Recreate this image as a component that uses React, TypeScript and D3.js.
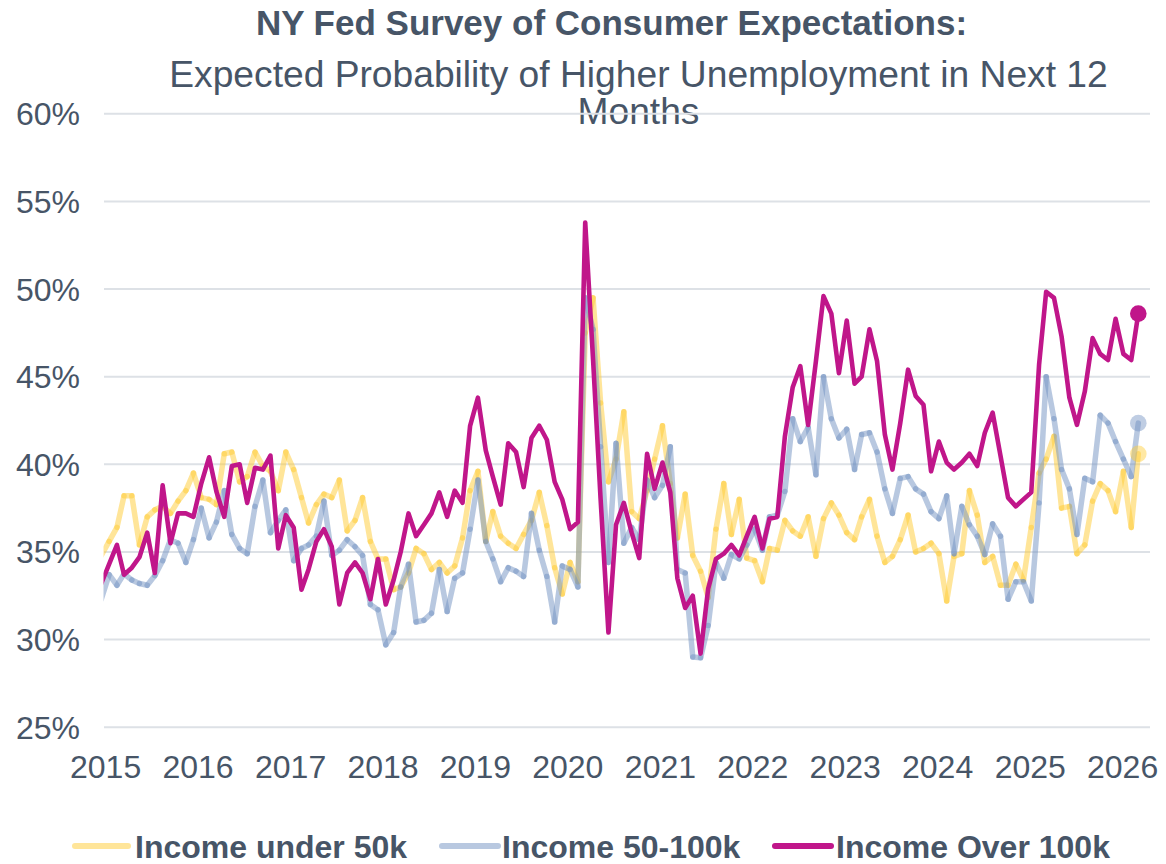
import React from "react";
import * as d3 from "d3";

// Monthly readings, Dec 2014 .. Mar 2026 (136 months)
const under50k: number[] = [
  34.8, 35.6, 36.4, 38.2, 38.2, 35.4, 37.0, 37.4, 37.6, 37.2, 37.9, 38.5, 39.5, 38.1, 38.0, 37.7,
  40.6, 40.7, 39.0, 39.3, 40.7, 39.9, 39.6, 38.5, 40.7, 39.7, 38.1, 36.65, 37.7, 38.3, 38.1, 39.1,
  36.2, 36.8, 38.1, 35.6, 34.6, 34.6, 32.85, 33.0, 33.8, 35.2, 34.9, 34.0, 34.4, 33.8, 34.2, 35.8,
  38.5, 39.6, 35.6, 37.3, 35.9, 35.5, 35.2, 36.0, 36.8, 38.4, 36.5, 34.1, 32.6, 34.4, 33.3, 47.5,
  49.5, 43.5, 39.0, 40.3, 43.0, 37.3, 36.9, 38.5, 40.3, 42.2, 38.9, 35.8, 38.3, 34.8, 33.9, 32.4,
  36.3, 38.9, 36.0, 38.0, 34.65, 34.5, 33.3, 35.2, 35.1, 36.8, 36.2, 35.9, 37.0, 34.75, 36.9, 37.8,
  37.1, 36.1, 35.7, 37.0, 38.0, 35.9, 34.4, 34.75, 35.7, 37.1, 35.0, 35.2, 35.5, 34.9, 32.2, 34.75,
  34.9, 38.5, 37.1, 34.4, 34.75, 33.1, 33.1, 34.3, 33.4, 36.4, 39.5, 40.3, 41.6, 37.5, 37.6, 34.9,
  35.4, 37.9, 38.9, 38.5, 37.3, 39.6, 36.4, 40.6,
];

const income50to100k: number[] = [
  32.3, 33.7, 33.1, 33.75, 33.4, 33.2, 33.1, 33.65, 34.5, 35.7, 35.5, 34.4, 35.7, 37.5, 35.8, 36.7,
  38.5, 36.0, 35.2, 34.9, 37.6, 39.1, 36.1, 36.8, 37.4, 34.5, 35.2, 35.4, 35.9, 37.9, 34.8, 35.1,
  35.7, 35.3, 34.8, 32.0, 31.7, 29.7, 30.4, 33.0, 34.3, 31.0, 31.1, 31.5, 34.0, 31.6, 33.5, 33.8,
  36.3, 39.1, 35.6, 34.6, 33.3, 34.1, 33.9, 33.6, 37.2, 35.1, 33.6, 31.0, 34.2, 34.0, 33.0, 49.5,
  47.7, 41.0, 34.4, 41.2, 35.5, 36.4, 35.7, 39.1, 38.1, 38.8, 41.0, 34.0, 33.8, 29.0, 28.96, 30.8,
  34.4, 33.5, 34.85, 34.6, 35.4, 36.3, 35.1, 37.0, 37.1, 38.45, 42.6, 41.3, 42.1, 39.4, 45.0, 42.6,
  41.5, 42.0, 39.7, 41.7, 41.8, 40.7, 38.6, 37.2, 39.2, 39.3, 38.6, 38.3, 37.3, 36.9, 38.2, 34.9,
  37.6, 36.55, 35.9, 34.85, 36.6, 35.9, 32.3, 33.3, 33.3, 32.2, 37.8, 45.0, 42.6, 39.7, 38.6, 36.0,
  39.2, 39.0, 42.8, 42.35, 41.3, 40.3, 39.3, 42.35,
];

const over100k: number[] = [
  33.2, 34.3, 35.4, 33.7, 34.1, 34.7, 36.1, 33.8, 38.8, 35.5, 37.2, 37.2, 37.0, 38.9, 40.4, 38.45,
  37.0, 39.9, 40.0, 37.8, 39.8, 39.7, 40.5, 35.2, 37.1, 36.4, 32.85, 34.0, 35.6, 36.3, 35.3, 32.0,
  33.8, 34.4, 33.8, 32.3, 34.6, 32.0, 33.4, 35.0, 37.2, 35.9, 36.55, 37.2, 38.4, 37.0, 38.5, 37.8,
  42.2, 43.8, 40.8, 39.3, 37.7, 41.2, 40.7, 38.7, 41.5, 42.2, 41.4, 39.0, 38.0, 36.3, 36.7, 53.8,
  46.0, 38.0, 30.4, 36.55, 37.8, 36.1, 34.65, 40.6, 38.6, 40.1, 38.4, 33.5, 31.8, 32.5, 29.2, 32.9,
  34.6, 34.9, 35.4, 34.8, 35.9, 37.0, 35.2, 36.9, 37.0, 41.6, 44.4, 45.6, 42.25, 45.9, 49.6, 48.6,
  45.2, 48.2, 44.6, 45.0, 47.7, 45.9, 41.7, 39.7, 42.35, 45.4, 43.9, 43.4, 39.6, 41.3, 40.1, 39.7,
  40.1, 40.6, 39.9, 41.8, 42.95, 40.5, 38.1, 37.6, 38.0, 38.4, 45.7, 49.85, 49.5, 47.3, 43.8, 42.25,
  44.15, 47.2, 46.3, 45.95, 48.3, 46.3, 45.95, 48.6,
];

const years: number[] = [2015, 2016, 2017, 2018, 2019, 2020, 2021, 2022, 2023, 2024, 2025, 2026];
const yTicks: number[] = [25, 30, 35, 40, 45, 50, 55, 60];

const seriesNames = ["Income under 50k", "Income 50-100k", "Income Over 100k"];

const W = 1166;
const H = 864;
const FONT = "'Liberation Sans', Arial, Helvetica, sans-serif";
const TEXT = "#475567";
const GRID = "#dde1e6";
const YELLOW = "rgb(255,204,51)";
const BLUE = "rgb(113,145,193)";
const PURPLE = "rgb(192,22,138)";

const dateOf = (i: number) => new Date(2014, 11 + i, 15);

export default function App() {
  const x = d3
    .scaleTime()
    .domain([dateOf(0), dateOf(135)])
    .range([101.3, 1138.3]);
  const y = d3.scaleLinear().domain([25, 60]).range([727.2, 113.8]);

  const toPts = (vals: number[]) => vals.map((v, i) => [x(dateOf(i)), y(v)] as [number, number]);

  const segs = (vals: number[], color: string, key: string) => {
    const pts = toPts(vals);
    const out: JSX.Element[] = [];
    for (let i = 0; i < pts.length - 1; i++) {
      out.push(
        <line
          key={key + i}
          x1={pts[i][0]}
          y1={pts[i][1]}
          x2={pts[i + 1][0]}
          y2={pts[i + 1][1]}
          stroke={color}
          strokeOpacity={0.5}
          strokeWidth={5.5}
          strokeLinecap="round"
        />
      );
    }
    return out;
  };

  const line = d3
    .line<[number, number]>()
    .x((d) => d[0])
    .y((d) => d[1]);

  const purplePts = toPts(over100k);
  const last = over100k.length - 1;

  const legend = [
    { name: seriesNames[0], color: YELLOW, op: 0.5, x1: 75, x2: 128, tx: 135 },
    { name: seriesNames[1], color: BLUE, op: 0.5, x1: 442, x2: 498, tx: 502 },
    { name: seriesNames[2], color: PURPLE, op: 1, x1: 775, x2: 831, tx: 836 },
  ];

  return (
    <svg
      width={W}
      height={H}
      style={{ position: "absolute", left: 0, top: 0, background: "#fff" }}
      fontFamily={FONT}
    >
      <defs>
        <clipPath id="plotClip">
          <rect x={103.5} y={0} width={1100} height={H} />
        </clipPath>
      </defs>

      {/* title */}
      <text x={611.5} y={35} textAnchor="middle" fontSize={35} fontWeight="bold" fill={TEXT}>
        NY Fed Survey of Consumer Expectations:
      </text>
      <text x={638.5} y={87} textAnchor="middle" fontSize={37.2} fill={TEXT}>
        Expected Probability of Higher Unemployment in Next 12
      </text>
      <text x={638.5} y={124} textAnchor="middle" fontSize={37.2} fill={TEXT}>
        Months
      </text>

      {/* gridlines + y labels */}
      {yTicks.map((t) => (
        <g key={"g" + t}>
          <line x1={104} x2={1150} y1={y(t)} y2={y(t)} stroke={GRID} strokeWidth={2} />
          <text x={80} y={y(t) + 11.5} textAnchor="end" fontSize={32} fill={TEXT}>
            {t}%
          </text>
        </g>
      ))}

      {/* x labels */}
      {years.map((yr) => (
        <text key={"x" + yr} x={x(new Date(yr, 0, 1)) + (yr - 2015) * 0.25} y={778} textAnchor="middle" fontSize={32} fill={TEXT}>
          {yr}
        </text>
      ))}

      <g clipPath="url(#plotClip)">
        {segs(under50k, YELLOW, "u")}
        {segs(income50to100k, BLUE, "m")}
        <path
          d={line(purplePts) || ""}
          fill="none"
          stroke={PURPLE}
          strokeWidth={4.6}
          strokeLinejoin="round"
          strokeLinecap="round"
        />
      </g>

      {/* end markers */}
      <circle cx={x(dateOf(last))} cy={y(under50k[last])} r={8.3} fill={YELLOW} fillOpacity={0.45} />
      <circle cx={x(dateOf(last))} cy={y(income50to100k[last])} r={8.3} fill={BLUE} fillOpacity={0.45} />
      <circle cx={x(dateOf(last))} cy={y(over100k[last])} r={8.3} fill={PURPLE} />

      {/* legend */}
      {legend.map((l) => (
        <g key={l.name}>
          <line
            x1={l.x1}
            x2={l.x2}
            y1={846}
            y2={846}
            stroke={l.color}
            strokeOpacity={l.op}
            strokeWidth={6}
            strokeLinecap="round"
          />
          <text x={l.tx} y={858} fontSize={32} fontWeight="bold" fill={TEXT}>
            {l.name}
          </text>
        </g>
      ))}
    </svg>
  );
}
